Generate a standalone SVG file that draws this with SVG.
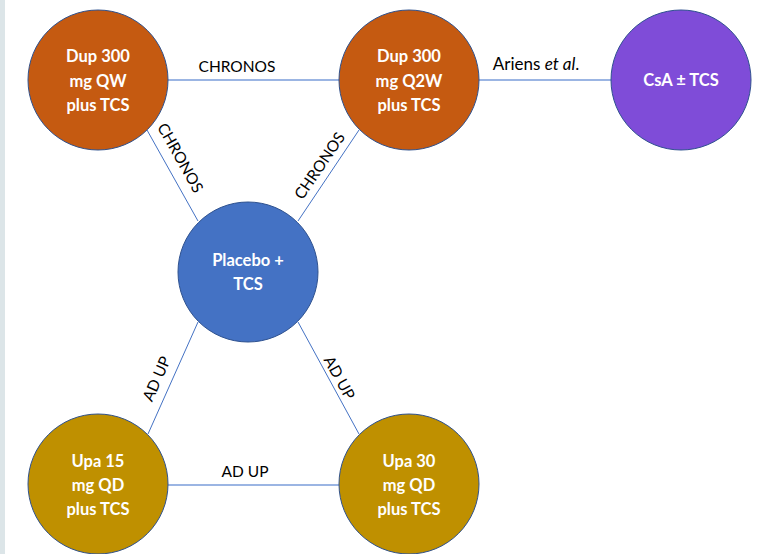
<svg xmlns="http://www.w3.org/2000/svg" width="760" height="554" viewBox="0 0 760 554">
<style>
.node{stroke:#2F528F;stroke-width:1}
.nt{font-family:Lato,"Liberation Sans",sans-serif;font-weight:bold;font-size:16.5px;fill:#fff;text-anchor:middle}
.lbl{font-family:Lato,"Liberation Sans",sans-serif;font-size:15.5px;fill:#000;text-anchor:middle}
.ln{stroke:#4472C4;stroke-width:1;fill:none}
.lnh{stroke:#7A9CDA;stroke-width:1.5;fill:none}
</style>
<rect x="0" y="0" width="760" height="554" fill="#fff"/>
<rect x="0" y="0" width="5" height="554" fill="#DCE5E8"/>
<g id="connectors">
<line class="lnh" x1="168" y1="80" x2="339" y2="80"/>
<line class="lnh" x1="479" y1="80" x2="611" y2="80"/>
<line class="lnh" x1="168" y1="485" x2="339" y2="485"/>
<line class="ln" x1="147" y1="130" x2="198" y2="221"/>
<line class="ln" x1="359" y1="130" x2="298" y2="221"/>
<line class="ln" x1="198" y1="322" x2="148" y2="434"/>
<line class="ln" x1="298" y1="322" x2="359" y2="434"/>
<text class="lbl" x="237" y="72">CHRONOS</text>
<text class="lbl" x="536" y="70" style="font-size:17px">Ariens <tspan font-style="italic">et al</tspan>.</text>
<text class="lbl" x="245" y="477">AD UP</text>
<text class="lbl" transform="translate(180,158) rotate(60.7)" y="5">CHRONOS</text>
<text class="lbl" transform="translate(320,166) rotate(-55.7)" y="5">CHRONOS</text>
<text class="lbl" transform="translate(157,379) rotate(-65.9)" y="5">AD UP</text>
<text class="lbl" transform="translate(339,378) rotate(61.4)" y="5">AD UP</text>
</g>
<g id="dup-qw">
<circle class="node" cx="98" cy="80" r="70" fill="#C55A11"/>
<text class="nt" x="98" y="62">Dup 300</text>
<text class="nt" x="98" y="86.5">mg QW</text>
<text class="nt" x="98" y="111">plus TCS</text>
</g>
<g id="dup-q2w">
<circle class="node" cx="409" cy="80" r="70" fill="#C55A11"/>
<text class="nt" x="409" y="62">Dup 300</text>
<text class="nt" x="409" y="86.5">mg Q2W</text>
<text class="nt" x="409" y="111">plus TCS</text>
</g>
<g id="csa">
<circle class="node" cx="681" cy="80" r="70" fill="#7F4CD8"/>
<text class="nt" x="681" y="86">CsA ± TCS</text>
</g>
<g id="placebo">
<circle class="node" cx="248" cy="272" r="70" fill="#4472C4"/>
<text class="nt" x="248" y="266">Placebo +</text>
<text class="nt" x="248" y="290">TCS</text>
</g>
<g id="upa15">
<circle class="node" cx="98" cy="484" r="70" fill="#BF9000"/>
<text class="nt" x="98" y="467">Upa 15</text>
<text class="nt" x="98" y="491">mg QD</text>
<text class="nt" x="98" y="515">plus TCS</text>
</g>
<g id="upa30">
<circle class="node" cx="409" cy="484" r="70" fill="#BF9000"/>
<text class="nt" x="409" y="467">Upa 30</text>
<text class="nt" x="409" y="491">mg QD</text>
<text class="nt" x="409" y="515">plus TCS</text>
</g>
</svg>
